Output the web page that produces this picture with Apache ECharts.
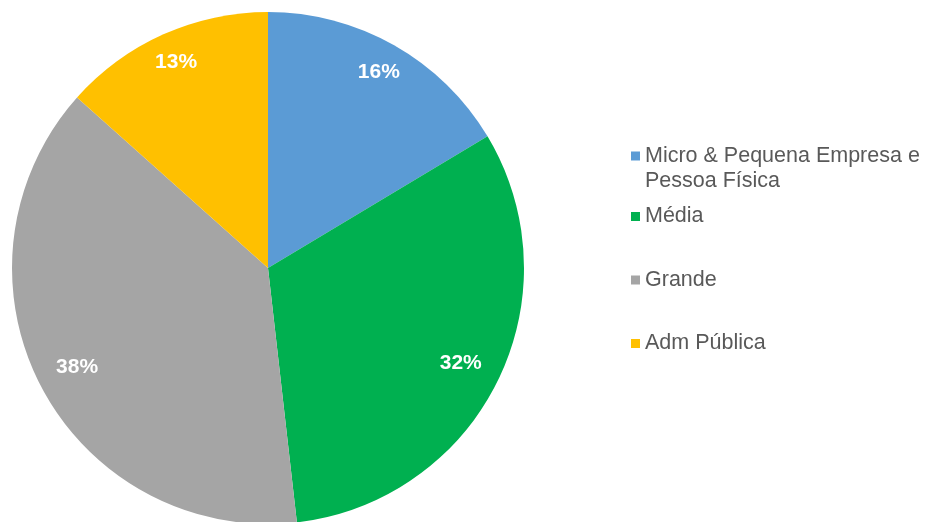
<!DOCTYPE html>
<html><head><meta charset="utf-8">
<script src="https://cdn.jsdelivr.net/npm/echarts@6/dist/echarts.min.js"></script>
<style>html,body{margin:0;padding:0;background:#fff}#c{width:927px;height:522px}</style>
</head><body><div id="c"></div>
<script>
const categories = ['Micro & Pequena Empresa e Pessoa Física', 'Média', 'Grande', 'Adm Pública'];
const values = [16.4, 31.8, 38.4, 13.4];
const labels = ['16%', '32%', '38%', '13%'];
const colors = ['#5B9BD5', '#00B050', '#A5A5A5', '#FFC000'];

const data = categories.map((n, i) => ({ name: n, value: values[i], itemStyle: { color: colors[i] } }));
// label ring series: Excel puts top labels slightly further out than bottom ones
function labelRing(showIdx) {
  return categories.map((n, i) => ({ name: n, value: values[i], label: { show: showIdx.indexOf(i) >= 0 } }));
}
const labelStyle = {
  show: true, position: 'inside', color: '#fff', fontWeight: 'bold', fontSize: 21,
  fontFamily: 'Liberation Sans, Arial, sans-serif',
  formatter: p => labels[p.dataIndex]
};

const chart = echarts.init(document.getElementById('c'), null, { renderer: 'canvas' });
const legendText = { color: '#595959', fontSize: 21.5, fontFamily: 'Liberation Sans, Arial, sans-serif', lineHeight: 25 };
chart.setOption({
  animation: false,
  legend: [
    {
      data: [categories[0]], orient: 'vertical', left: 626, top: 113.5,
      itemWidth: 9, itemHeight: 9, icon: 'rect', itemGap: 0, selectedMode: false,
      formatter: () => ' \nMicro & Pequena Empresa e\nPessoa Física',
      textStyle: legendText
    },
    {
      data: categories.slice(1), orient: 'vertical', left: 626, top: 199,
      itemWidth: 9, itemHeight: 9, icon: 'rect', itemGap: 38.5, selectedMode: false,
      textStyle: legendText
    }
  ],
  series: [
    {
      type: 'pie', center: [268, 268], radius: [0, 256], startAngle: 90, clockwise: true,
      data: data, label: { show: false }, labelLine: { show: false },
      silent: true, emphasis: { disabled: true }
    },
    {
      type: 'pie', center: [268, 268], radius: [188, 256], startAngle: 90, clockwise: true,
      data: labelRing([0, 3]), itemStyle: { color: 'rgba(0,0,0,0)' },
      silent: true, emphasis: { disabled: true }, legendHoverLink: false,
      label: labelStyle, labelLine: { show: false }
    },
    {
      type: 'pie', center: [268, 268], radius: [168, 256], startAngle: 90, clockwise: true,
      data: labelRing([1, 2]), itemStyle: { color: 'rgba(0,0,0,0)' },
      silent: true, emphasis: { disabled: true }, legendHoverLink: false,
      label: labelStyle, labelLine: { show: false }
    }
  ]
});
</script></body></html>
